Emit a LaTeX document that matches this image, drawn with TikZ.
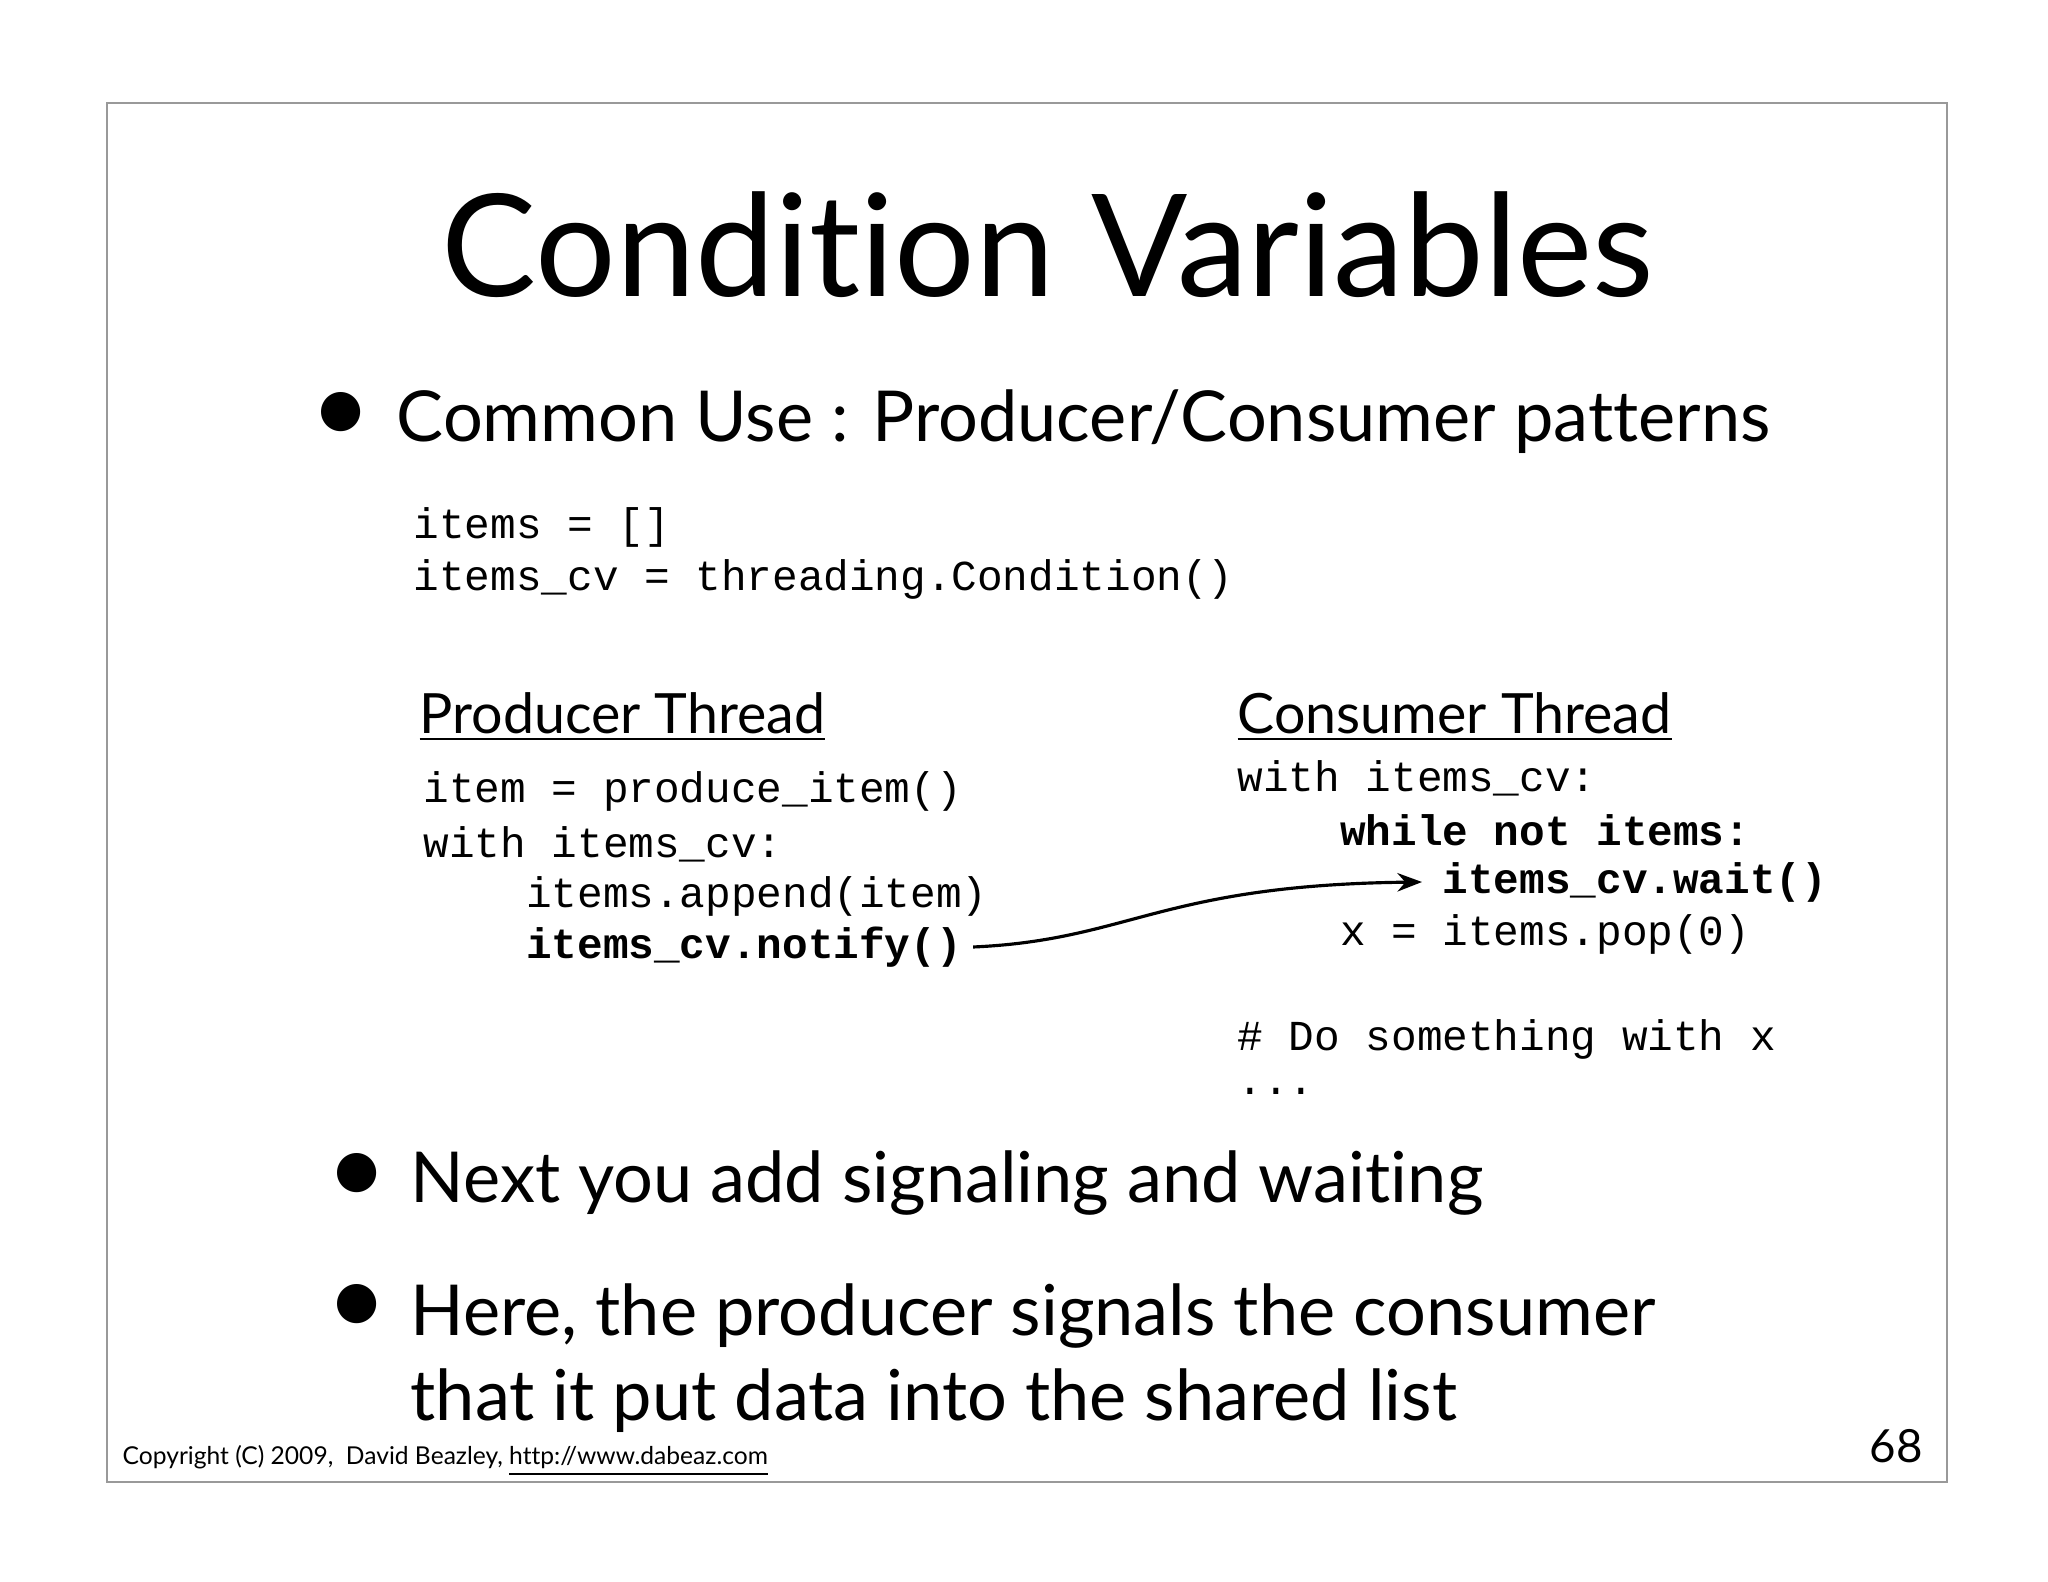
\documentclass[tikz,border=0pt]{standalone}
\usepackage{fontspec}
\setmainfont{Lato}[Ligatures={NoCommon}]
\setmonofont{Liberation Mono}
\usetikzlibrary{positioning, arrows.meta}
\tikzset{
  slide/.style={draw=black!40, line width=0.6pt},
  code/.style={anchor=west, inner sep=0pt, font=\ttfamily\fontsize{12.15}{14}\selectfont},
  head/.style={anchor=west, inner sep=0pt, font=\fontsize{15.8}{19}\selectfont},
  bullet/.style={anchor=west, inner sep=0pt, font=\fontsize{20}{24}\selectfont},
  dot/.style={anchor=east, inner sep=0pt, font=\fontsize{30}{30}\selectfont},
}
\begin{document}
\begin{tikzpicture}[x=1cm, y=-1cm]
  \useasboundingbox (0,0) rectangle (20.48,15.82);
  \draw[slide] (1.07,1.03) rectangle (19.47,14.82);
  \node[inner sep=0pt, font=\fontsize{40.5}{46}\selectfont] (title) at (10.48,2.45) {Condition Variables};
  % bullets
  \node[bullet] (b1) at (3.96,4.22) {Common Use : Producer/Consumer patterns};
  \node[dot] at (3.72,4.18) {\textbullet};
  % shared state
  \node[code] (c1) at (4.13,5.27) {items = []};
  \node[code] (c2) at (4.13,5.79) {items\_cv = threading.Condition()};
  % producer
  \node[head] (ph) at (4.19,7.17) {\underline{Producer Thread}};
  \node[code] (p1) at (4.23,7.91) {item = produce\_item()};
  \node[code] (p2) at (4.23,8.44) {with items\_cv:};
  \node[code] (p3) at (4.23,8.96) {\ \ \ \ items.append(item)};
  \node[code] (p4) at (4.23,9.47) {\ \ \ \ \textbf{items\_cv.notify()}};
  % consumer
  \node[head] (ch) at (12.37,7.17) {\underline{Consumer Thread}};
  \node[code] (k1) at (12.37,7.78) {with items\_cv:};
  \node[code] (k2) at (12.37,8.30) {\ \ \ \ \textbf{while not items:}};
  \node[code] (k3) at (12.37,8.82) {\ \ \ \ \ \ \ \ \textbf{items\_cv.wait()}};
  \node[code] (k4) at (12.37,9.34) {\ \ \ \ x = items.pop(0)};
  \node[code] (k5) at (12.37,10.39) {\# Do something with x};
  \node[code] (k6) at (12.37,10.91) {...};
  \coordinate (wt) at (14.22,8.82);
  \draw[-{Stealth[length=7pt]}, line width=0.9pt] ([xshift=3pt]p4.east) .. controls (11.3,9.4) and (11.6,8.85) .. (wt);
  \node[bullet] (b2) at (4.10,11.83) {Next you add signaling and waiting};
  \node[dot] at (3.88,11.79) {\textbullet};
  \node[bullet, align=left] (b3) at (4.10,13.58) {Here, the producer signals the consumer\\that it put data into the shared list};
  \node[dot] at (3.88,13.10) {\textbullet};
  \node[anchor=west, inner sep=0pt, font=\fontsize{7}{9}\selectfont] (copy) at (1.22,14.61) {Copyright (C) 2009,\ \ David Beazley, \underline{http://www.dabeaz.com}};
  \node[inner sep=0pt, font=\fontsize{13}{15}\selectfont] (num) at (18.96,14.46) {68};
\end{tikzpicture}
\end{document}
